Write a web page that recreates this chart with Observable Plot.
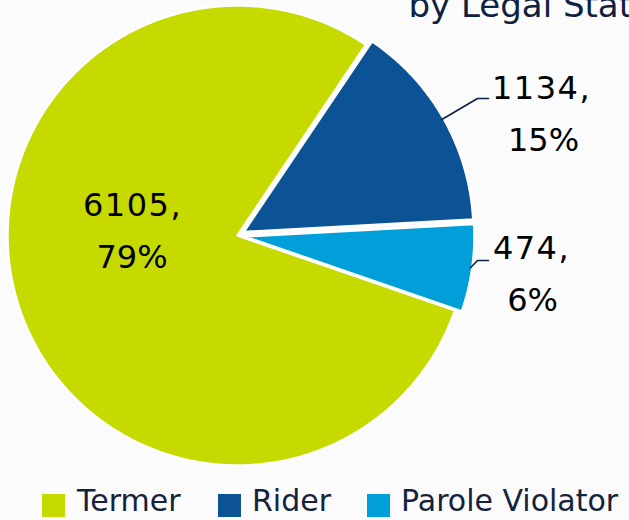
<!DOCTYPE html>
<html><head><meta charset="utf-8">
<script src="https://cdn.jsdelivr.net/npm/d3@7"></script>
<script src="https://cdn.jsdelivr.net/npm/@observablehq/plot@0.6"></script>
<style>
html,body{margin:0;padding:0;background:#fbfbfb;}
#wrap{position:relative;width:629px;height:520px;overflow:hidden;font-family:"DejaVu Sans",sans-serif;}
#chart{position:absolute;left:0;top:0;}
.lg{position:absolute;top:484px;height:32px;display:flex;align-items:center;font-size:30px;color:#13233d;white-space:nowrap;}
.sw{position:absolute;top:494px;width:23px;height:23px;}
</style></head><body>
<div id="wrap"><div id="chart"></div></div>
<script>
// ---- data ----
const categories = ["Termer", "Rider", "Parole Violator"];
const counts = [6105, 1134, 474];
const percentLabels = ["79%", "15%", "6%"];
const colors = ["#c6da00", "#0b5394", "#009fd9"];
const titleText = "by Legal Status";

// ---- layout (pixels) ----
const W = 629, H = 478;
const CX = 237, CY = 235, R = 230;
const explode = [0, 7, 7];
const startDeg = 109;
// label line centers relative to pie center (pixels, y down): [count line, percent line]
const countOffsets = [[-105, -30], [304, -147], [294, 13.5]];
const pctOffsets = [[-105.5, 22], [306, -95], [295, 65]];
// leader elbows / ends relative to pie center (pixels, y down), null = none
const leaderPts = [null, [[240, -137], [251, -137]], [[240, 25], [251, 25]]];

const pie = d3.pie().sort(null).value(d => d)
  .startAngle(startDeg * Math.PI / 180).endAngle(startDeg * Math.PI / 180 + 2 * Math.PI);
const arcs = pie(counts);

const slicePts = [];
const countRows = [];
const pctRows = [];
const leaderRows = [];
arcs.forEach((a, i) => {
  const mid = (a.startAngle + a.endAngle) / 2;
  const ox = explode[i] * Math.sin(mid), oy = explode[i] * Math.cos(mid);
  slicePts.push({k: categories[i], x: ox, y: oy, c: colors[i]});
  const n = Math.max(4, Math.ceil((a.endAngle - a.startAngle) * 180 / Math.PI * 2));
  for (let j = 0; j <= n; j++) {
    const t = a.startAngle + (a.endAngle - a.startAngle) * j / n;
    slicePts.push({k: categories[i], x: ox + R * Math.sin(t), y: oy + R * Math.cos(t), c: colors[i]});
  }
  countRows.push({x: countOffsets[i][0], y: -countOffsets[i][1], t: counts[i] + ","});
  pctRows.push({x: pctOffsets[i][0], y: -pctOffsets[i][1], t: percentLabels[i]});
  if (leaderPts[i]) {
    leaderRows.push({k: categories[i], x: ox + (R - 2) * Math.sin(mid), y: oy + (R - 2) * Math.cos(mid)});
    leaderPts[i].forEach(p => leaderRows.push({k: categories[i], x: p[0], y: -p[1]}));
  }
});

const chart = Plot.plot({
  width: W, height: H,
  margin: 0,
  style: {background: "transparent", overflow: "visible"},
  x: {domain: [-CX, W - CX], axis: null},
  y: {domain: [-(H - CY), CY], axis: null},
  color: {type: "identity"},
  marks: [
    Plot.line(slicePts, {x: "x", y: "y", z: "k", fill: "c", stroke: "white", strokeWidth: 2.5, curve: "linear-closed", strokeLinejoin: "round"}),
    Plot.line(leaderRows, {x: "x", y: "y", z: "k", stroke: "#0e2140", strokeWidth: 1.6}),
    Plot.text(countRows, {x: "x", y: "y", text: "t", fontSize: 32, fill: "#000", fontFamily: "DejaVu Sans", textAnchor: "middle", lineAnchor: "middle"}),
    Plot.text(pctRows, {x: "x", y: "y", text: "t", fontSize: 32, fill: "#000", fontFamily: "DejaVu Sans", textAnchor: "middle", lineAnchor: "middle"}),
    Plot.text([titleText], {frameAnchor: "top-left", dx: 408, dy: 16, lineAnchor: "bottom", textAnchor: "start", fontSize: 34, fill: "#0e2140", fontFamily: "DejaVu Sans"})
  ]
});
const countTexts = new Set(countRows.map(d => d.t));
chart.querySelectorAll("text").forEach(t => {
  if (countTexts.has(t.textContent)) t.setAttribute("letter-spacing", "1.5");
});
document.getElementById("chart").appendChild(chart);

// ---- legend ----
const wrap = document.getElementById("wrap");
const legendX = [[42, 77], [218, 252], [367, 401]];
categories.forEach((c, i) => {
  const sw = document.createElement("div");
  sw.className = "sw"; sw.style.left = legendX[i][0] + "px"; sw.style.background = colors[i];
  wrap.appendChild(sw);
  const lb = document.createElement("div");
  lb.className = "lg"; lb.style.left = legendX[i][1] + "px"; lb.textContent = c;
  wrap.appendChild(lb);
});
</script>
</body></html>
